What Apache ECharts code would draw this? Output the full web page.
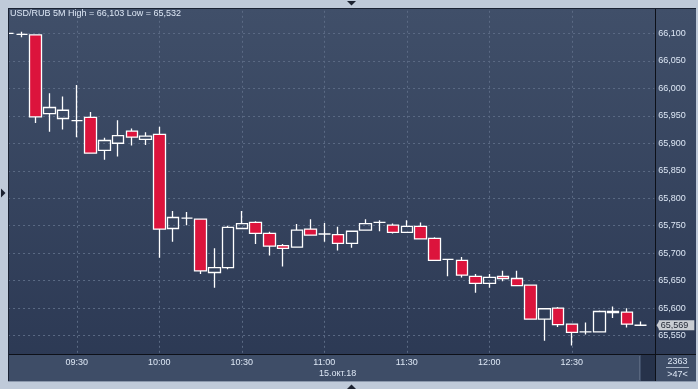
<!DOCTYPE html>
<html><head><meta charset="utf-8">
<script src="https://cdn.jsdelivr.net/npm/echarts@6/dist/echarts.min.js"></script>
<style>html,body{margin:0;padding:0;background:#bfcad9}#c{width:698px;height:389px}</style>
</head><body><div id="c"></div>
<script>
// ---- data ----
const times = ['09:05','09:10','09:15','09:20','09:25','09:30','09:35','09:40','09:45','09:50','09:55',
  '10:00','10:05','10:10','10:15','10:20','10:25','10:30','10:35','10:40','10:45','10:50','10:55',
  '11:00','11:05','11:10','11:15','11:20','11:25','11:30','11:35','11:40','11:45','11:50','11:55',
  '12:00','12:05','12:10','12:15','12:20','12:25','12:30','12:35','12:40','12:45','12:50','12:55','13:00'];
const timeLabels = ['09:30','10:00','10:30','11:00','11:30','12:00','12:30'];
const openV  = [66.100,66.098,66.097,65.954,65.945,65.941,65.947,65.887,65.900,65.922,65.907,
  65.916,65.745,65.764,65.762,65.665,65.674,65.745,65.756,65.736,65.714,65.711,65.744,
  65.735,65.734,65.718,65.742,65.756,65.751,65.738,65.749,65.727,65.689,65.687,65.658,
  65.645,65.658,65.654,65.642,65.580,65.600,65.571,65.557,65.557,65.592,65.593,65.569,null];
const closeV = [66.100,66.098,65.948,65.965,65.960,65.941,65.882,65.905,65.914,65.911,65.913,
  65.744,65.765,65.764,65.668,65.674,65.747,65.754,65.736,65.713,65.709,65.742,65.733,
  65.735,65.718,65.740,65.754,65.756,65.738,65.749,65.726,65.687,65.689,65.660,65.645,
  65.656,65.654,65.641,65.580,65.599,65.570,65.556,65.557,65.594,65.594,65.571,65.569,null];
const lowV   = [66.100,66.093,65.937,65.921,65.925,65.911,65.882,65.870,65.876,65.896,65.897,
  65.692,65.721,65.751,65.662,65.637,65.671,65.745,65.717,65.696,65.676,65.711,65.733,
  65.721,65.705,65.710,65.742,65.740,65.736,65.738,65.725,65.687,65.658,65.656,65.628,
  65.637,65.649,65.641,65.580,65.541,65.566,65.532,65.552,65.557,65.582,65.565,65.568,null];
const highV  = [66.100,66.103,66.097,65.991,65.985,66.006,65.957,65.910,65.942,65.927,65.920,
  65.930,65.777,65.775,65.762,65.709,65.750,65.777,65.758,65.739,65.717,65.753,65.762,
  65.755,65.748,65.740,65.762,65.760,65.754,65.760,65.756,65.729,65.690,65.693,65.662,
  65.662,65.668,65.668,65.642,65.599,65.602,65.571,65.574,65.596,65.603,65.600,65.576,null];
const titleText = 'USD/RUB 5M High = 66,103 Low = 65,532';
const dateText = '15.окт.18';
const lastPrice = 65.569;
const infoTop = '2363', infoBottom = '>47<';

// ---- chart ----
const fmt = v => Number(v).toFixed(3).replace('.', ',');
const ohlc = times.map((t, i) => openV[i] == null ? '-' : [openV[i], closeV[i], lowV[i], highV[i]]);
const FONT = 'Liberation Sans';
const TXT = '#dde7f5';
const GRIDC = '#5b6a84';
const isLbl = (i, v) => timeLabels.indexOf(v) >= 0;

const chart = echarts.init(document.getElementById('c'), null, {renderer: 'canvas'});
chart.setOption({
  backgroundColor: '#bfcad9',
  animation: false,
  title: {text: titleText, left: 10, top: 9, padding: 0,
    textStyle: {color: TXT, fontSize: 9, fontWeight: 'normal', fontFamily: FONT}},
  axisPointer: {triggerOn: 'none'},
  grid: {left: 8.05, right: 43.7, top: 5.8, bottom: 25.8},
  xAxis: [{
    type: 'category', data: times, boundaryGap: false,
    axisLine: {show: false}, axisTick: {show: false}, axisLabel: {show: false},
    splitLine: {show: true, interval: isLbl, lineStyle: {color: GRIDC, type: [2, 3], width: 1}}
  }, {
    type: 'category', data: times, boundaryGap: false, position: 'bottom', z: 50,
    axisLine: {show: false}, axisTick: {show: false}, splitLine: {show: false},
    axisLabel: {show: true, interval: isLbl, color: TXT, fontSize: 9, fontFamily: FONT,
      verticalAlign: 'middle', margin: -0.5}
  }],
  yAxis: {
    type: 'value', position: 'right', min: 65.50, max: 66.15, interval: 0.05, scale: true,
    axisLine: {show: false}, axisTick: {show: false},
    axisLabel: {color: TXT, fontSize: 9, fontFamily: FONT, margin: 4, showMinLabel: false, showMaxLabel: false,
      formatter: v => fmt(v)},
    splitLine: {show: true, lineStyle: {color: GRIDC, type: [2, 3], width: 1}},
    axisPointer: {show: true, value: lastPrice, status: 'show', snap: false, triggerTooltip: false,
      type: 'line', lineStyle: {opacity: 0}, handle: {show: false},
      label: {show: true, formatter: p => fmt(p.value), backgroundColor: '#c9cdd3', color: '#1c2230',
        fontSize: 9, fontFamily: FONT, lineHeight: 9, padding: [1, 6, 0, 2], margin: 4.5, borderRadius: 0}}
  },
  series: [{
    type: 'candlestick', data: ohlc, barWidth: 12, clip: true,
    itemStyle: {color: 'rgba(0,0,0,0)', color0: '#dc143c', borderColor: '#ffffff', borderColor0: '#ffffff',
      borderColorDoji: '#ffffff', borderWidth: 1.3},
    emphasis: {disabled: true}
  }],
  graphic: [
    {type: 'rect', z: -5, silent: true, shape: {x: 8, y: 8, width: 688, height: 373},
      style: {fill: new echarts.graphic.LinearGradient(0, 0, 0, 1, [{offset: 0, color: '#404f69'}, {offset: 1, color: '#2b3853'}])}},
    // outer frame
    {type: 'rect', z: 10, silent: true, shape: {x: 0, y: 0, width: 698, height: 8}, style: {fill: '#bfcad9'}},
    {type: 'rect', z: 10, silent: true, shape: {x: 0, y: 0, width: 8, height: 389}, style: {fill: '#bfcad9'}},
    {type: 'rect', z: 10, silent: true, shape: {x: 0, y: 381, width: 698, height: 8}, style: {fill: '#bfcad9'}},
    {type: 'rect', z: 10, silent: true, shape: {x: 696, y: 0, width: 2, height: 389}, style: {fill: '#bfcad9'}},
    // bottom axis strip
    {type: 'rect', z: 10, silent: true, shape: {x: 8, y: 354, width: 688, height: 27}, style: {fill: '#3e4d67'}},
    {type: 'rect', z: 11, silent: true, shape: {x: 641, y: 355, width: 14, height: 26}, style: {fill: '#26324a'}},
    {type: 'line', z: 11, silent: true, shape: {x1: 639.5, y1: 356, x2: 639.5, y2: 380}, style: {stroke: '#58667e', lineWidth: 1}},
    // separators and borders
    {type: 'line', z: 12, silent: true, shape: {x1: 8, y1: 354.5, x2: 696, y2: 354.5}, style: {stroke: '#0d1018', lineWidth: 1}},
    {type: 'line', z: 12, silent: true, shape: {x1: 655.5, y1: 8, x2: 655.5, y2: 381}, style: {stroke: '#0d1018', lineWidth: 1}},
    {type: 'line', z: 12, silent: true, shape: {x1: 8.5, y1: 8, x2: 8.5, y2: 381}, style: {stroke: '#1a2233', lineWidth: 1}},
    {type: 'line', z: 12, silent: true, shape: {x1: 8, y1: 8.5, x2: 696, y2: 8.5}, style: {stroke: '#1a2233', lineWidth: 1}},
    {type: 'line', z: 12, silent: true, shape: {x1: 8, y1: 381.5, x2: 696, y2: 381.5}, style: {stroke: '#8c99ad', lineWidth: 1}},
    // texts
    {type: 'text', z: 60, silent: true, x: 319, y: 373.5,
      style: {text: dateText, fill: TXT, font: '9px "Liberation Sans"', verticalAlign: 'middle'}},
    {type: 'text', z: 60, silent: true, x: 677.5, y: 361.5,
      style: {text: infoTop, fill: TXT, font: '9px "Liberation Sans"', align: 'center', verticalAlign: 'middle'}},
    {type: 'line', z: 60, silent: true, shape: {x1: 666, y1: 367.5, x2: 689, y2: 367.5}, style: {stroke: '#aab6c8', lineWidth: 1}},
    {type: 'text', z: 60, silent: true, x: 677.5, y: 374.5,
      style: {text: infoBottom, fill: TXT, font: '9px "Liberation Sans"', align: 'center', verticalAlign: 'middle'}},
    // small arrows on frame
    {type: 'polygon', z: 13, silent: true, shape: {points: [[347, 1], [356, 1], [351.5, 5.5]]}, style: {fill: '#1c2230'}},
    {type: 'polygon', z: 13, silent: true, shape: {points: [[1, 188.5], [1, 197.5], [5.5, 193]]}, style: {fill: '#1c2230'}},
    {type: 'polygon', z: 13, silent: true, shape: {points: [[347, 389], [356, 389], [351.5, 384.5]]}, style: {fill: '#1c2230'}}
  ]
});
// arrow of the last-price tag, positioned through the axis scale
const py = chart.convertToPixel({yAxisIndex: 0}, lastPrice);
chart.setOption({graphic: [{id: 'tagArrow', type: 'polygon', z: 100, silent: true,
  shape: {points: [[656.5, py], [659.6, py - 4.8], [659.6, py + 4.8]]}, style: {fill: '#c9cdd3'}}]});
</script></body></html>
